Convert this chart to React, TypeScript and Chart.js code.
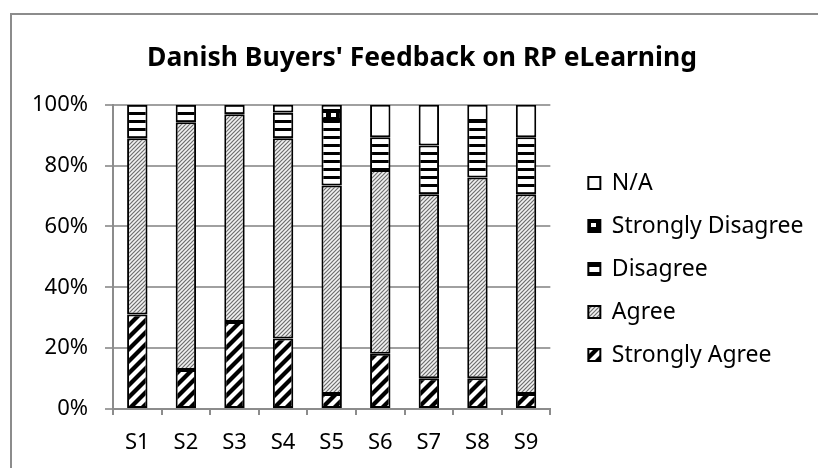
import React, { useEffect, useRef } from "react";
import { Chart, registerables } from "chart.js";

Chart.register(...registerables);

const categories = ["S1", "S2", "S3", "S4", "S5", "S6", "S7", "S8", "S9"];
const stronglyAgree = [31.1, 12.8, 28.6, 23.2, 4.9, 18.2, 10.1, 10.1, 4.9];
const agree = [57.9, 81.5, 68.3, 65.8, 68.6, 60.4, 60.5, 66.0, 65.7];
const disagree = [11.0, 5.7, 3.1, 8.5, 21.5, 10.7, 16.0, 18.6, 18.7];
const stronglyDisagree = [0, 0, 0, 0, 3.0, 0, 0, 0, 0];
const notApplicable = [0, 0, 0, 2.5, 2.0, 10.7, 13.4, 5.3, 10.7];
const yTicks = [0, 20, 40, 60, 80, 100];
const titleText = "Danish Buyers' Feedback on RP eLearning";

const FONT = "'Noto Sans', sans-serif";

function makePattern(kind: string): CanvasPattern | string {
  const c = document.createElement("canvas");
  const ctx = c.getContext("2d")!;
  if (kind === "sa") {
    const s = 12;
    c.width = s; c.height = s;
    ctx.fillStyle = "#fff"; ctx.fillRect(0, 0, s, s);
    ctx.strokeStyle = "#000"; ctx.lineWidth = 4.2;
    for (const o of [-s, 0, s]) {
      ctx.beginPath(); ctx.moveTo(o - 2, s + 2); ctx.lineTo(o + s + 2, -2); ctx.stroke();
    }
  } else if (kind === "a") {
    const s = 4;
    c.width = s; c.height = s;
    ctx.fillStyle = "#f2f2f2"; ctx.fillRect(0, 0, s, s);
    ctx.strokeStyle = "#6e6e6e"; ctx.lineWidth = 1.2;
    for (const o of [-s, 0, s]) {
      ctx.beginPath(); ctx.moveTo(o - 1, s + 1); ctx.lineTo(o + s + 1, -1); ctx.stroke();
    }
  } else if (kind === "d") {
    c.width = 4; c.height = 8;
    ctx.fillStyle = "#fff"; ctx.fillRect(0, 0, 4, 8);
    ctx.fillStyle = "#000"; ctx.fillRect(0, 0, 4, 3);
  } else if (kind === "sd") {
    c.width = 10; c.height = 10;
    ctx.fillStyle = "#000"; ctx.fillRect(0, 0, 10, 10);
    ctx.fillStyle = "#fff"; ctx.fillRect(1, 3, 5, 4);
  } else {
    return "#ffffff";
  }
  return ctx.createPattern(c, "repeat")!;
}

export default function App() {
  const ref = useRef<HTMLCanvasElement | null>(null);

  useEffect(() => {
    if (!ref.current) return;
    const nz = (arr: number[]) => arr.map((v) => (v === 0 ? null : v));
    const common = {
      borderColor: "#000000",
      borderWidth: 2,
      borderSkipped: false as const,
      categoryPercentage: 1,
      barPercentage: 0.42,
    };
    const chart = new Chart(ref.current, {
      type: "bar",
      data: {
        labels: categories,
        datasets: [
          { label: "Strongly Agree", data: nz(stronglyAgree), backgroundColor: makePattern("sa") as any, ...common },
          { label: "Agree", data: nz(agree), backgroundColor: makePattern("a") as any, ...common },
          { label: "Disagree", data: nz(disagree), backgroundColor: makePattern("d") as any, ...common },
          { label: "Strongly Disagree", data: nz(stronglyDisagree), backgroundColor: makePattern("sd") as any, ...common },
          { label: "N/A", data: nz(notApplicable), backgroundColor: makePattern("na") as any, ...common },
        ],
      },
      options: {
        animation: false,
        responsive: false,
        maintainAspectRatio: false,
        layout: { padding: { top: 0, left: 20.5, right: 20.5, bottom: 0 } },
        plugins: {
          tooltip: { enabled: false },
          title: {
            display: true,
            text: titleText,
            color: "#000",
            font: { family: FONT, size: 26.5, weight: "bold" },
            padding: { top: 43, bottom: 30 },
          },
          legend: {
            position: "right",
            reverse: true,
            maxWidth: 400,
            title: { display: true, text: "", font: { size: 12 }, padding: { top: 55.6, bottom: 0 } },
            labels: {
              color: "#000",
              font: { family: FONT, size: 23 },
              boxWidth: 12,
              boxHeight: 12,
              padding: 20,
            },
          },
        },
        scales: {
          x: {
            stacked: true,
            afterFit: (scale: any) => {
              scale.height = 59;
            },
            grid: {
              display: true,
              drawOnChartArea: false,
              drawTicks: true,
              tickLength: 6,
              color: "#8c8c8c",
              lineWidth: 2,
              offset: true,
            },
            border: { display: true, color: "#8c8c8c", width: 2 },
            ticks: { color: "#000", font: { family: FONT, size: 22 }, padding: 15 },
          },
          y: {
            stacked: true,
            min: 0,
            max: 100,
            afterBuildTicks: (scale: any) => {
              scale.ticks = yTicks.map((v) => ({ value: v }));
            },
            afterFit: (scale: any) => {
              scale.width = 82.5;
            },
            grid: {
              color: "#a0a0a0",
              lineWidth: 2,
              tickLength: 8,
              drawTicks: true,
            },
            border: { display: true, color: "#8c8c8c", width: 2 },
            ticks: {
              color: "#000",
              font: { family: FONT, size: 22 },
              padding: 17,
              callback: (v: any) => v + "%",
            },
          },
          gap: {
            type: "linear",
            position: "right",
            display: true,
            grid: { display: false, drawOnChartArea: false },
            border: { display: false },
            ticks: { display: false },
            afterFit: (scale: any) => {
              scale.width = 18;
            },
          },
        },
      },
    });
    return () => chart.destroy();
  }, []);

  return (
    <div style={{ position: "fixed", left: 0, top: 0, width: 818, height: 468, overflow: "hidden", background: "#fff" }}>
      <div
        style={{
          position: "absolute",
          left: 10,
          top: 13,
          width: 830,
          height: 480,
          border: "2px solid #8c8c8c",
          boxSizing: "border-box",
        }}
      />
      <canvas ref={ref} width={824} height={468} style={{ position: "absolute", left: 10, top: 0, width: 824, height: 468 }} />
    </div>
  );
}
